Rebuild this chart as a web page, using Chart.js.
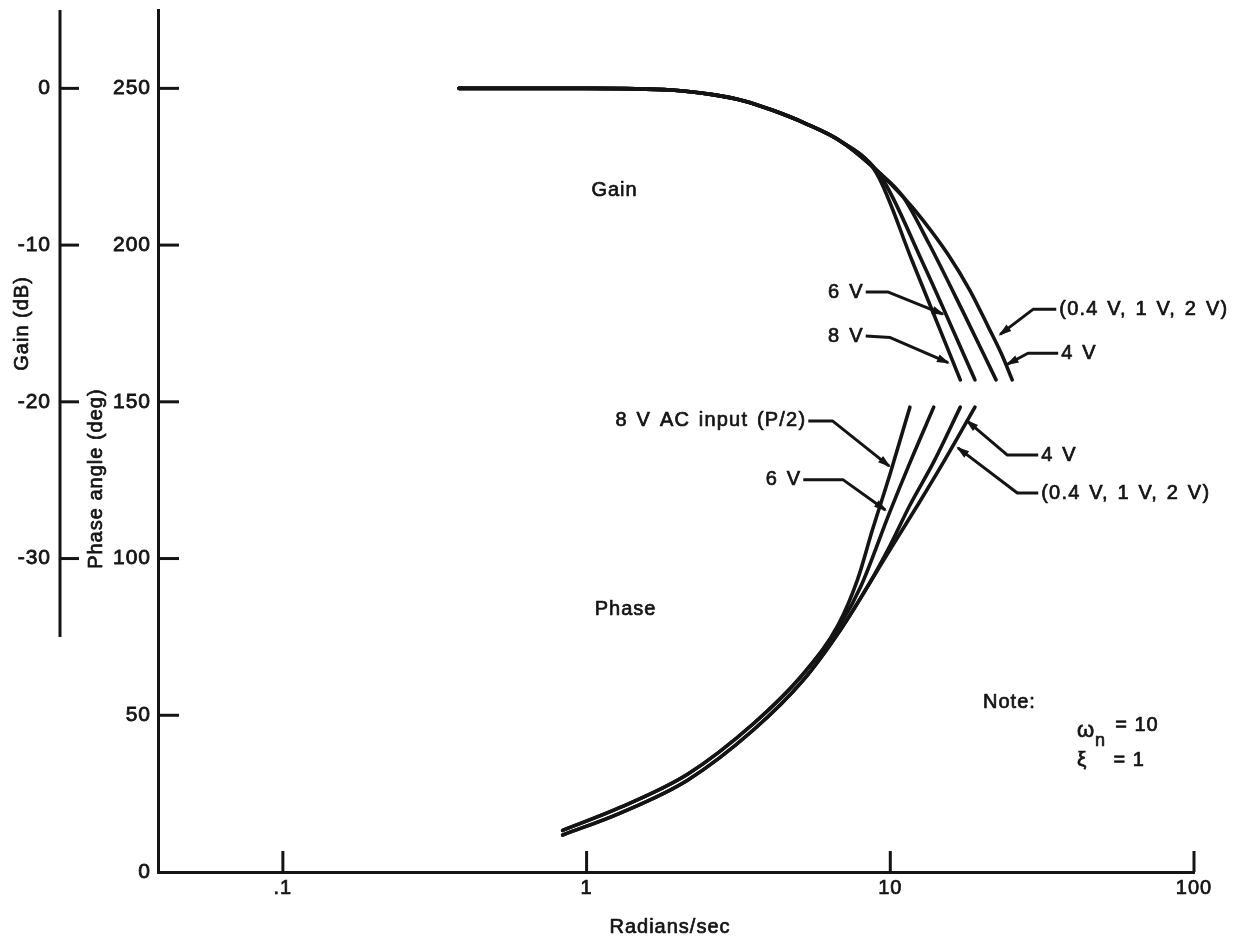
<!DOCTYPE html>
<html>
<head>
<meta charset="utf-8">
<title>Gain and phase vs frequency</title>
<script src="https://cdn.jsdelivr.net/npm/chart.js@4.4.1/dist/chart.umd.min.js"></script>
<style>
  html, body { margin: 0; padding: 0; background: #ffffff; }
  #wrap { position: relative; width: 1241px; height: 941px; }
  canvas { display: block; }
</style>
</head>
<body>
<div id="wrap"><canvas id="bode" width="1241" height="941"></canvas></div>
<script>
// ---------------- axis ticks ----------------
const freqTicks = [0.1, 1, 10, 100];
const freqTickLabels = ['.1', '1', '10', '100'];
const phaseTicks = [0, 50, 100, 150, 200, 250];
const gainTicks = [0, -10, -20, -30];
const gainAxisEnd = -35;          // lower end of the drawn gain axis line

// ---------------- gain (dB) vs rad/s ----------------
const gainFreqLowV = [0.38, 1.0, 1.9, 2.6, 3.3, 4.1, 5.2, 6.9, 9.1, 11.0, 12.8, 15.5, 18.3, 21.0, 23.3, 25.2];
const gainLowV     = [0, 0, -0.1, -0.4, -0.8, -1.4, -2.2, -3.4, -5.3, -6.9, -8.4, -10.6, -12.9, -15.2, -17.0, -18.6];
const gainFreq4V   = [0.38, 1.0, 1.9, 2.6, 3.3, 4.1, 5.2, 6.9, 9.1, 11.0, 13.4, 17.3, 22.3];
const gain4V       = [0, 0, -0.1, -0.4, -0.8, -1.4, -2.2, -3.4, -5.3, -6.9, -9.9, -14.2, -18.6];
const gainFreq6V   = [0.38, 1.0, 1.9, 2.6, 3.3, 4.1, 5.2, 6.9, 9.3, 12.7, 19.0];
const gain6V       = [0, 0, -0.1, -0.4, -0.8, -1.4, -2.2, -3.4, -5.6, -11.0, -18.6];
const gainFreq8V   = [0.38, 1.0, 1.9, 2.6, 3.3, 4.1, 5.2, 6.9, 9.0, 11.8, 17.0];
const gain8V       = [0, 0, -0.1, -0.4, -0.8, -1.4, -2.2, -3.4, -5.4, -11.0, -18.6];

// ---------------- phase (deg) vs rad/s ----------------
const phaseFreqLowV = [0.834, 1.29, 2.15, 3.54, 5.17, 6.85, 8.47, 10.2, 12.3, 15.1, 19.0];
const phaseLowV     = [11.8, 18.8, 29.3, 45.3, 61.2, 77.2, 91.5, 104.3, 117.0, 131.4, 148.3];
const phaseFreq4V   = [0.834, 1.29, 2.15, 3.54, 5.17, 6.85, 8.47, 10.0, 11.6, 14.0, 17.0];
const phase4V       = [11.8, 18.8, 29.3, 45.3, 61.2, 77.2, 91.5, 104.3, 117.0, 131.4, 148.3];
const phaseFreq6V   = [0.834, 1.29, 2.15, 3.54, 5.17, 6.85, 8.03, 9.93, 11.7, 13.9];
const phase6V       = [13.3, 20.6, 31.2, 47.3, 63.2, 79.0, 91.5, 114.5, 131.4, 148.3];
const phaseFreq8VAC = [0.834, 1.29, 2.15, 3.54, 5.17, 6.75, 7.79, 8.73, 10.0, 11.6];
const phase8VAC     = [13.3, 20.6, 31.2, 47.3, 63.2, 79.0, 93.1, 109.1, 127.2, 148.3];

// ---------------- callouts (data coordinates: rad/s, axis value) ----------------
const callouts = [
  { text: '6 V', axis: 'gain', side: 'left', label: [8.3, -13.0], elbow: [9.85, -13.0], tip: [14.9, -14.4] },
  { text: '8 V', axis: 'gain', side: 'left', label: [8.3, -15.8], elbow: [10.0, -15.9], tip: [15.5, -17.5] },
  { text: '(0.4 V, 1 V, 2 V)', axis: 'gain', side: 'right', label: [35.2, -14.1], elbow: [29.5, -14.1], tip: [23.0, -15.7] },
  { text: '4 V', axis: 'gain', side: 'right', label: [35.7, -16.9], elbow: [28.4, -16.9], tip: [24.3, -17.6] },
  { text: '8 V AC input (P/2)', axis: 'phase', side: 'left', label: [5.37, 143.9], elbow: [6.45, 143.9], tip: [9.92, 129.5] },
  { text: '6 V', axis: 'phase', side: 'left', label: [5.17, 125.1], elbow: [7.0, 125.1], tip: [9.63, 115.5] },
  { text: '4 V', axis: 'phase', side: 'right', label: [30.7, 133.0], elbow: [24.3, 133.0], tip: [17.9, 143.9] },
  { text: '(0.4 V, 1 V, 2 V)', axis: 'phase', side: 'right', label: [30.7, 120.9], elbow: [26.2, 120.9], tip: [16.7, 135.3] }
];
const captions = [
  { text: 'Gain', axis: 'gain', at: [1.236, -6.5], align: 'center' },
  { text: 'Phase', axis: 'phase', at: [1.344, 83.6], align: 'center' },
  { text: 'Note:', axis: 'phase', at: [20.2, 54.2], align: 'left' }
];

const INK = '#141414';
const FONT = "'Liberation Sans', Arial, Helvetica, sans-serif";

function pts(xs, ys) { return xs.map((x, i) => ({ x: x, y: ys[i] })); }

function curve(data, axis) {
  return {
    data: data,
    yAxisID: axis,
    borderColor: INK,
    borderWidth: 3.6,
    pointRadius: 0,
    fill: false,
    cubicInterpolationMode: 'monotone',
    borderCapStyle: 'round',
    borderJoinStyle: 'round'
  };
}

function setFont(ctx, size, weight) {
  ctx.font = (weight || 'normal') + ' ' + size + 'px ' + FONT;
}

// filled text with a thin outline so the strokes read a little heavier
function ink(ctx, text, x, y) {
  ctx.fillText(text, x, y);
  ctx.save();
  ctx.lineWidth = 0.7;
  ctx.lineJoin = 'round';
  ctx.strokeText(text, x, y);
  ctx.restore();
}

function dropEdgePadding(s) {
  s.paddingTop = 0;
  s.paddingBottom = 0;
}

// tick marks pointing into the plot, the shorter gain axis line,
// axis titles, callouts and free text
const decorations = {
  id: 'decorations',
  beforeDraw(chart) {
    chart.ctx.letterSpacing = '1px';
  },
  afterDraw(chart) {
    const { ctx, chartArea } = chart;
    const xs = chart.scales.x, ph = chart.scales.phase, gn = chart.scales.gain;
    const P = (axis, f, v) => [xs.getPixelForValue(f), chart.scales[axis].getPixelForValue(v)];

    ctx.save();
    ctx.strokeStyle = INK;
    ctx.fillStyle = INK;
    ctx.lineCap = 'butt';

    // gain axis line
    ctx.lineWidth = 3;
    const gx = gn.right - 1;
    ctx.beginPath();
    ctx.moveTo(gx, chartArea.top);
    ctx.lineTo(gx, gn.getPixelForValue(gainAxisEnd));
    ctx.stroke();

    // tick marks
    gn.ticks.forEach(t => {
      const y = gn.getPixelForValue(t.value);
      ctx.beginPath(); ctx.moveTo(gx, y); ctx.lineTo(gx + 19, y); ctx.stroke();
    });
    ph.ticks.forEach(t => {
      if (t.value === 0) return;
      const y = ph.getPixelForValue(t.value);
      ctx.beginPath(); ctx.moveTo(ph.right, y); ctx.lineTo(ph.right + 21, y); ctx.stroke();
    });
    xs.ticks.forEach(t => {
      const x = xs.getPixelForValue(t.value);
      ctx.beginPath(); ctx.moveTo(x, chartArea.bottom); ctx.lineTo(x, chartArea.bottom - 21); ctx.stroke();
    });

    // axis titles
    ctx.letterSpacing = '1px';
    setFont(ctx, 20);
    ctx.textAlign = 'center';
    ctx.textBaseline = 'middle';
    ink(ctx, 'Radians/sec', (xs.left + xs.right) / 2 - 6, xs.bottom - 14);
    ctx.save();
    ctx.translate(gn.left + 22, gn.getPixelForValue(-15));
    ctx.rotate(-Math.PI / 2);
    ink(ctx, 'Gain (dB)', 0, 0);
    ctx.restore();
    ctx.save();
    ctx.translate(ph.left + 35, ph.getPixelForValue(125.5));
    ctx.rotate(-Math.PI / 2);
    ink(ctx, 'Phase angle (deg)', 0, 0);
    ctx.restore();

    // callouts with arrows
    ctx.lineWidth = 3;
    ctx.lineJoin = 'round';
    callouts.forEach(c => {
      const a = P(c.axis, c.label[0], c.label[1]);
      const b = P(c.axis, c.elbow[0], c.elbow[1]);
      const t = P(c.axis, c.tip[0], c.tip[1]);
      ctx.beginPath();
      ctx.moveTo(a[0], a[1]);
      ctx.lineTo(b[0], b[1]);
      ctx.lineTo(t[0], t[1]);
      ctx.stroke();
      const ang = Math.atan2(t[1] - b[1], t[0] - b[0]);
      const L = 11, W = 4;
      ctx.beginPath();
      ctx.moveTo(t[0] + 2 * Math.cos(ang), t[1] + 2 * Math.sin(ang));
      ctx.lineTo(t[0] - L * Math.cos(ang) - W * Math.sin(ang), t[1] - L * Math.sin(ang) + W * Math.cos(ang));
      ctx.lineTo(t[0] - L * Math.cos(ang) + W * Math.sin(ang), t[1] - L * Math.sin(ang) - W * Math.cos(ang));
      ctx.closePath();
      ctx.fill();

      setFont(ctx, 20);
      ctx.letterSpacing = '1.2px';
      ctx.wordSpacing = '2px';
      ctx.textBaseline = 'middle';
      if (c.side === 'left') { ctx.textAlign = 'right'; ink(ctx, c.text, a[0] - 2, a[1]); }
      else { ctx.textAlign = 'left'; ink(ctx, c.text, a[0] + 3, a[1]); }
      ctx.wordSpacing = '0px';
    });

    // free text
    captions.forEach(c => {
      const p = P(c.axis, c.at[0], c.at[1]);
      setFont(ctx, 20);
      ctx.letterSpacing = '1px';
      ctx.textAlign = c.align;
      ctx.textBaseline = 'middle';
      ink(ctx, c.text, p[0], p[1]);
    });

    // natural frequency and damping note
    ctx.textAlign = 'left';
    ctx.textBaseline = 'middle';
    ctx.letterSpacing = '0px';
    let p = P('phase', 41.2, 45.0);
    setFont(ctx, 22);
    ink(ctx, '\u03C9', p[0], p[1]);
    setFont(ctx, 18);
    ink(ctx, 'n', p[0] + 18, p[1] + 10);
    p = P('phase', 55.0, 46.6);
    ctx.letterSpacing = '1px';
    setFont(ctx, 20);
    ink(ctx, '= 10', p[0], p[1]);
    p = P('phase', 41.2, 35.7);
    ctx.letterSpacing = '0px';
    setFont(ctx, 21);
    ink(ctx, '\u03BE', p[0], p[1]);
    p = P('phase', 54.3, 35.7);
    ctx.letterSpacing = '1px';
    setFont(ctx, 20);
    ink(ctx, '= 1', p[0], p[1]);

    ctx.restore();
  }
};

const tickFont = { family: FONT, size: 21 };

new Chart(document.getElementById('bode'), {
  type: 'line',
  data: {
    datasets: [
      curve(pts(gainFreqLowV, gainLowV), 'gain'),
      curve(pts(gainFreq4V, gain4V), 'gain'),
      curve(pts(gainFreq6V, gain6V), 'gain'),
      curve(pts(gainFreq8V, gain8V), 'gain'),
      curve(pts(phaseFreqLowV, phaseLowV), 'phase'),
      curve(pts(phaseFreq4V, phase4V), 'phase'),
      curve(pts(phaseFreq6V, phase6V), 'phase'),
      curve(pts(phaseFreq8VAC, phase8VAC), 'phase')
    ]
  },
  options: {
    responsive: false,
    animation: false,
    events: [],
    layout: { padding: { top: 10, right: 47, bottom: 0, left: 0 } },
    plugins: { legend: { display: false }, tooltip: { enabled: false } },
    scales: {
      x: {
        type: 'logarithmic',
        position: 'bottom',
        min: 0.0388,
        max: 100,
        afterBuildTicks: s => { s.ticks = freqTicks.map(v => ({ value: v })); },
        afterFit: s => { s.height = 69; s.paddingLeft = 0; s.paddingRight = 0; },
        ticks: {
          autoSkip: false, maxRotation: 0, padding: 4, color: INK,
          font: { family: FONT, size: 20 },
          textStrokeColor: INK, textStrokeWidth: 0.7,
          callback: (v, i) => freqTickLabels[i]
        },
        grid: { drawOnChartArea: false, drawTicks: false },
        border: { display: true, width: 3, color: INK },
        title: { display: false }
      },
      phase: {
        type: 'linear',
        position: 'left',
        weight: 0,
        min: 0,
        max: 275,
        afterBuildTicks: s => { s.ticks = phaseTicks.map(v => ({ value: v })); },
        afterFit: s => { s.width = 97; dropEdgePadding(s); },
        ticks: { padding: 7, color: INK, font: tickFont, textStrokeColor: INK, textStrokeWidth: 0.8, callback: v => String(v) },
        grid: { drawOnChartArea: false, drawTicks: false },
        border: { display: true, width: 3, color: INK }
      },
      gain: {
        type: 'linear',
        position: 'left',
        weight: 1,
        min: -50,
        max: 5,
        afterBuildTicks: s => { s.ticks = gainTicks.map(v => ({ value: v })); },
        afterFit: s => { s.width = 61; dropEdgePadding(s); },
        ticks: { padding: 10, color: INK, font: tickFont, textStrokeColor: INK, textStrokeWidth: 0.8, callback: v => String(v) },
        grid: { drawOnChartArea: false, drawTicks: false },
        border: { display: false }
      }
    }
  },
  plugins: [decorations]
});
</script>
</body>
</html>
